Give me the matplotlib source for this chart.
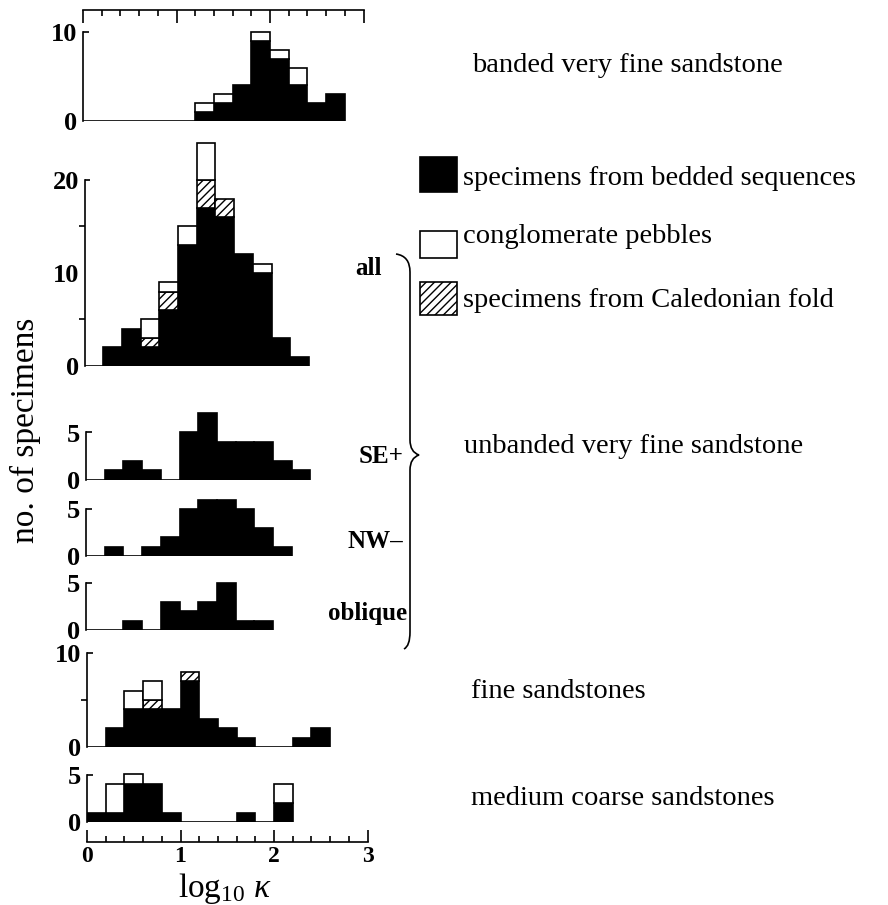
import matplotlib
matplotlib.use('Agg')
import matplotlib.pyplot as plt
import numpy as np
from matplotlib.patches import Rectangle, PathPatch
from matplotlib.path import Path

plt.rcParams['font.family'] = ['Liberation Serif', 'DejaVu Serif']
plt.rcParams['mathtext.fontset'] = 'custom'
plt.rcParams['mathtext.rm'] = 'Liberation Serif'
plt.rcParams['mathtext.it'] = 'Liberation Serif:italic'
plt.rcParams['hatch.linewidth'] = 1.0

# bin left edges of log10 kappa, width 0.2
bins = np.round(np.arange(0, 2.9, 0.2), 1)
bin_w = 0.2

banded_bedded = [0, 0, 0, 0, 0, 0, 1, 2, 4, 9, 7, 4, 2, 3, 0]
banded_pebbles = [0, 0, 0, 0, 0, 0, 1, 1, 0, 1, 1, 2, 0, 0, 0]

all_bedded = [0, 2, 4, 2, 6, 13, 17, 16, 12, 10, 3, 1, 0, 0, 0]
all_fold = [0, 0, 0, 1, 2, 0, 3, 2, 0, 0, 0, 0, 0, 0, 0]
all_pebbles = [0, 0, 0, 2, 1, 2, 4, 0, 0, 1, 0, 0, 0, 0, 0]

se_bedded = [0, 1, 2, 1, 0, 5, 7, 4, 4, 4, 2, 1, 0, 0, 0]
nw_bedded = [0, 1, 0, 1, 2, 5, 6, 6, 5, 3, 1, 0, 0, 0, 0]
obl_bedded = [0, 0, 1, 0, 3, 2, 3, 5, 1, 1, 0, 0, 0, 0, 0]

fine_bedded = [0, 2, 4, 4, 4, 7, 3, 2, 1, 0, 0, 1, 2, 0, 0]
fine_fold = [0, 0, 0, 1, 0, 1, 0, 0, 0, 0, 0, 0, 0, 0, 0]
fine_pebbles = [0, 0, 2, 2, 0, 0, 0, 0, 0, 0, 0, 0, 0, 0, 0]

medium_bedded = [1, 1, 4, 4, 1, 0, 0, 0, 1, 0, 2, 0, 0, 0, 0]
medium_pebbles = [0, 3, 1, 0, 0, 0, 0, 0, 0, 0, 2, 0, 0, 0, 0]

zeros = [0] * len(bins)

W, H = 888, 905
fig = plt.figure(figsize=(W / 100, H / 100), dpi=100)
LW = 1.2


def panel(left, y0, ppu, ytop, labels, minor, bedded, fold, pebbles):
    # left, y0 in pixels from top-left; ppu = pixels per count
    ax = fig.add_axes([left / W, 1 - y0 / H, 3 * 93.5 / W, ytop * ppu / H])
    ax.patch.set_visible(False)
    b = np.array(bedded)
    f = np.array(fold)
    p = np.array(pebbles)
    m = b > 0
    ax.bar(bins[m], b[m], width=bin_w, align='edge', color='black',
           edgecolor='black', lw=LW)
    m = f > 0
    ax.bar(bins[m], f[m], bottom=b[m], width=bin_w, align='edge',
           color='white', edgecolor='black', hatch='////', lw=LW)
    m = p > 0
    ax.bar(bins[m], p[m], bottom=(b + f)[m], width=bin_w, align='edge',
           color='white', edgecolor='black', lw=LW)
    tot = b + f + p
    last = bins[np.nonzero(tot)[0][-1]] + bin_w
    ax.hlines(0, 0, last, color='black', lw=LW)
    tick_top = labels[-1]
    ax.set_xlim(0, 3)
    ax.set_ylim(0, ytop)
    for s in ['top', 'right', 'bottom']:
        ax.spines[s].set_visible(False)
    ax.spines['left'].set_bounds(0, tick_top)
    ax.spines['left'].set_linewidth(LW)
    ax.set_xticks([])
    ax.set_yticks(labels)
    ax.set_yticklabels([str(v) for v in labels], fontweight='bold', fontsize=19)
    ax.set_yticks(minor, minor=True)
    ax.tick_params(axis='y', which='major', length=0, pad=4)
    ax.tick_params(axis='y', which='minor', length=4, width=LW, direction='out')
    ax.hlines(tick_top, 0, 0.06, color='black', lw=LW, clip_on=False)
    return ax


def kappa_axis(ax, side):
    ax.spines[side].set_visible(True)
    ax.spines[side].set_linewidth(LW)
    ax.spines[side].set_bounds(0, 3)
    ax.set_xticks([0, 1, 2, 3])
    ax.set_xticks(np.round(np.arange(0, 3.01, 0.2), 1), minor=True)
    ax.tick_params(axis='x', which='major', direction='in', length=9, width=LW)
    ax.tick_params(axis='x', which='minor', direction='in', length=4.5, width=LW)


ax1 = panel(83, 121, 8.9, 12.5, [0, 10], [], banded_bedded, zeros,
            banded_pebbles)
ax1.xaxis.set_ticks_position('top')
kappa_axis(ax1, 'top')
ax1.tick_params(axis='x', labeltop=False)

panel(84.5, 366, 9.3, 25, [0, 10, 20], [5, 10, 15], all_bedded, all_fold,
      all_pebbles)
panel(86, 480, 9.5, 7.5, [0, 5], [], se_bedded, zeros, zeros)
panel(86, 556, 9.4, 6.5, [0, 5], [], nw_bedded, zeros, zeros)
panel(86, 630, 9.33, 5.5, [0, 5], [], obl_bedded, zeros, zeros)
panel(87, 747, 9.4, 10.5, [0, 10], [5], fine_bedded, fine_fold, fine_pebbles)
ax7 = panel(87, 822, 9.5, 5.5, [0, 5], [], medium_bedded, zeros,
            medium_pebbles)
ax7.spines['bottom'].set_position(('outward', 14.4))
kappa_axis(ax7, 'bottom')
ax7.set_xticklabels(['0', '1', '2', '3'], fontweight='bold', fontsize=17)
ax7.tick_params(axis='x', which='major', pad=3)

# overlay in pixel coordinates for labels, legend and brace
ov = fig.add_axes([0, 0, 1, 1], zorder=-1)
ov.set_xlim(0, W)
ov.set_ylim(H, 0)
ov.axis('off')

ov.text(25, 430, 'no. of specimens', rotation=90, ha='center', va='center',
        fontsize=24)
ov.text(225, 888, r'log$_{10}$ $\kappa$', ha='center', va='center', fontsize=24)

legend = [('black', None, 157, 35, 'specimens from bedded sequences', 185),
          ('white', None, 231, 27, 'conglomerate pebbles', 243),
          ('white', '////', 282, 33, 'specimens from Caledonian fold', 307)]
for fc, hatch, y, h, label, base in legend:
    ov.add_patch(Rectangle((420, y), 37, h, facecolor=fc, edgecolor='black',
                           hatch=hatch, lw=LW))
    ov.text(463, base, label, ha='left', va='baseline', fontsize=20.5)

groups = [('banded very fine sandstone', 472, 72),
          ('unbanded very fine sandstone', 464, 453),
          ('fine sandstones', 471, 698),
          ('medium coarse sandstones', 471, 805)]
for label, x, base in groups:
    ov.text(x, base, label, ha='left', va='baseline', fontsize=20.5)

subs = [('all', 382, 275), ('SE+', 403, 463), ('NW\u2013', 403, 548),
        ('oblique', 407, 620)]
for label, x, base in subs:
    ov.text(x, base, label, ha='right', va='baseline', fontsize=18,
            fontweight='bold')

verts = [(396, 254), (410, 256), (410, 272),
         (410, 440),
         (410, 452), (419, 455),
         (410, 458), (410, 470),
         (410, 632),
         (410, 646), (404, 649)]
codes = [Path.MOVETO, Path.CURVE3, Path.CURVE3,
         Path.LINETO,
         Path.CURVE3, Path.CURVE3,
         Path.CURVE3, Path.CURVE3,
         Path.LINETO,
         Path.CURVE3, Path.CURVE3]
ov.add_patch(PathPatch(Path(verts, codes), facecolor='none', edgecolor='black',
                       lw=LW))

fig.savefig('out.png', dpi=100)
